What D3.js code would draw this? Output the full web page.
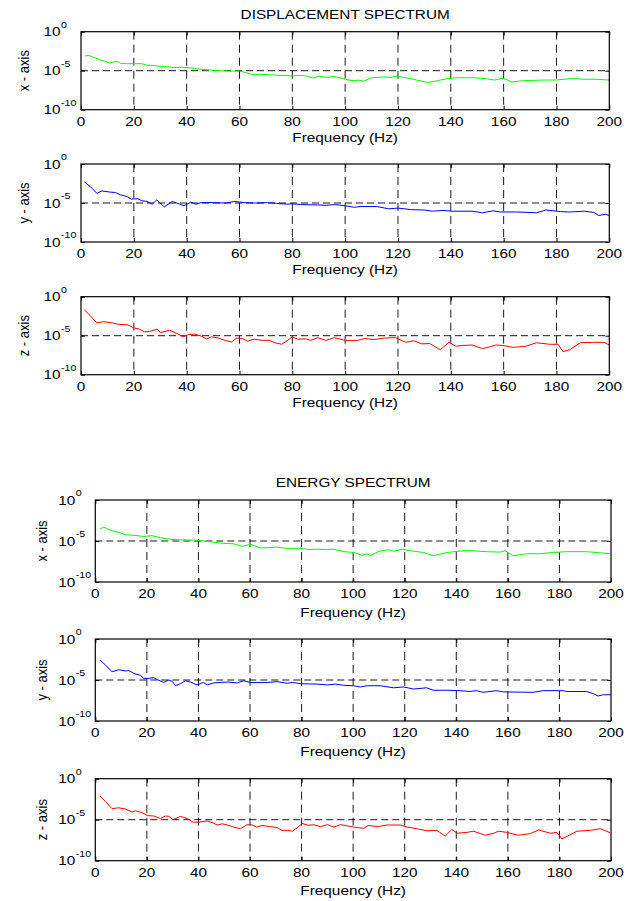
<!DOCTYPE html>
<html>
<head>
<meta charset="utf-8">
<script src="https://cdn.jsdelivr.net/npm/d3@7"></script>
<style>
  body { margin: 0; background: #fff; }
  svg { display: block; }
  text { font-family: "Liberation Sans", Arial, Helvetica, sans-serif; fill: #000; }
</style>
</head>
<body>
<svg id="chart" width="626" height="901"></svg>
<script>
// ---- axis settings ----
const xTicks = [0, 20, 40, 60, 80, 100, 120, 140, 160, 180, 200];
const xGrid = [20, 40, 60, 80, 100, 120, 140, 160, 180];
const yTickExps = [0, -5, -10];
const yGridExps = [-5];
const figureTitles = ["DISPLACEMENT SPECTRUM", "ENERGY SPECTRUM"];
const axisNames = ["x - axis", "y - axis", "z - axis"];
const seriesColors = ["#00ff00", "#0000ff", "#ff0000"];
const xLabel = "Frequency (Hz)";

// ---- spectra: frequency (Hz) and log10 of the amplitude ----
const dispXFreq = [1.5,3,5,7,9,11,13.6,15,17,20,23,25,28,30,33,35,38,40,43,45,48,50,53,56,60,62,65,68,70,73,75,78,80,82,85,88,90,93,95.6,98,100,103,105,107,109.5,112,114.6,117,119.6,122,125,127,131,134,136,139,143,148,153,156.5,159,161,163,166.8,170,175,179.5,183,186,190,195,200];
const dispXLog = [-3.1,-3.05,-3.3,-3.6,-3.8,-4.0,-3.8,-4.05,-4.1,-4.1,-4.1,-4.3,-4.35,-4.45,-4.5,-4.6,-4.55,-4.6,-4.7,-4.8,-4.9,-4.95,-5.0,-5.05,-5.05,-5.2,-5.5,-5.45,-5.5,-5.55,-5.6,-5.6,-5.7,-5.6,-5.65,-5.95,-5.7,-5.85,-5.75,-5.9,-6.1,-6.3,-6.2,-6.35,-5.95,-5.85,-5.8,-5.85,-5.7,-5.85,-6.05,-6.2,-6.5,-6.35,-6.2,-6.0,-5.9,-5.9,-6.0,-6.2,-6.0,-6.1,-6.45,-6.3,-6.25,-6.2,-6.2,-6.1,-6.0,-6.1,-6.1,-6.2];

const dispYFreq = [1.3,3.5,6,7.9,11,13,15,17.6,19,21.5,23,25,27,28.7,31.5,34.6,37,39,41.5,43.5,45.5,50,55,58,62,66,70.6,74,78,80,83,89.6,93,96,100,103.5,106,112,116.5,120,125,130,133,137,140.5,148,152,156,158.6,165,172.5,176,181.5,185,190.5,194,196,198.5,200];
const dispYLog = [-2.3,-2.9,-3.75,-3.45,-3.6,-3.65,-3.95,-4.2,-4.5,-4.45,-4.7,-4.8,-5.15,-4.6,-5.5,-4.8,-5.1,-5.35,-4.9,-5.15,-4.95,-4.95,-5.0,-4.8,-4.95,-5.0,-4.95,-5.05,-5.15,-5.1,-5.2,-5.25,-5.3,-5.2,-5.35,-5.55,-5.45,-5.45,-5.75,-5.65,-5.85,-5.9,-6.05,-5.95,-6.05,-6.05,-6.25,-6.0,-6.15,-6.15,-6.25,-5.9,-6.1,-6.15,-6.05,-6.2,-6.6,-6.45,-6.6];

const dispZFreq = [1.3,3.4,6,8.6,11.7,14.3,17.6,20,22,24,26,29,30,33.5,36,38.7,40.6,43,45.5,47.5,49.4,52,54.6,57,59,61,63,65.6,68.8,71.4,73.4,76,78,80,82,85,87,89.6,92.7,96,100,105,107.4,111,115,119,123,126,129,132,136,139.3,142,144.5,148,152,154.5,157,159.7,163.5,168.5,172.4,177.5,180.6,182.5,185,189,194,198,200];
const dispZLog = [-1.7,-2.4,-3.35,-3.2,-3.35,-3.55,-3.6,-4.0,-4.15,-4.5,-4.45,-4.15,-4.6,-4.3,-4.65,-5.15,-4.85,-4.8,-5.05,-5.4,-5.15,-5.3,-5.6,-5.8,-5.3,-5.35,-5.7,-5.45,-5.6,-5.6,-5.9,-6.1,-5.65,-5.15,-5.45,-5.4,-5.6,-5.25,-5.6,-5.25,-5.6,-5.6,-5.35,-5.5,-5.3,-5.25,-5.85,-5.65,-6.05,-6.0,-6.8,-5.85,-6.35,-6.25,-6.2,-6.65,-6.45,-6.2,-6.25,-6.5,-6.35,-5.9,-6.1,-6.1,-7.05,-6.8,-5.9,-5.85,-5.85,-6.2];

const energyXFreq = [1.8,3.3,5.9,9.1,11.7,15,18.8,22,25.3,29.2,33,39.5,43.4,48.6,53.7,57,60.2,64,70.5,74.4,79.6,83,86,90,92.5,96.4,100.2,103.4,105.4,106.7,110,113.8,115.7,119,123.5,127.3,131,136.3,144,151.8,157,159,162,167.2,172.4,177.5,182.7,190.5,199.5];
const energyXLog = [-3.55,-3.3,-3.7,-3.95,-4.25,-4.3,-4.45,-4.35,-4.6,-4.8,-4.85,-4.9,-5.05,-5.25,-5.35,-5.65,-5.4,-5.85,-5.75,-5.9,-5.9,-6.05,-6.0,-6.05,-6.0,-6.3,-6.4,-6.75,-6.55,-6.8,-6.25,-6.05,-6.25,-6.0,-6.25,-6.4,-6.8,-6.4,-6.15,-6.3,-6.35,-6.2,-6.8,-6.55,-6.55,-6.4,-6.3,-6.3,-6.55];

const energyYFreq = [1.8,4,6.5,9.1,11.7,13,15,17.6,18.8,20.8,22.5,24,26.6,28.5,29.8,31.1,33,35,36.9,39.5,41.8,43.4,46,51.2,55,57.6,60.2,66.6,70.5,74.4,76.4,79.6,86,90,93.2,96.4,100.2,102.8,105.4,110.5,115.7,119.5,123.5,128.5,131,136.3,141.4,145.3,147.8,150.4,155.6,158.2,169.8,173.7,181.5,182.7,190.5,193,195,197,200];
const energyYLog = [-2.55,-3.2,-4.0,-3.75,-3.9,-3.85,-4.2,-4.45,-4.8,-4.8,-4.7,-4.95,-5.3,-5.0,-5.15,-5.7,-5.45,-5.1,-5.25,-5.6,-5.3,-5.6,-5.35,-5.25,-5.35,-5.1,-5.3,-5.3,-5.2,-5.4,-5.3,-5.45,-5.5,-5.6,-5.5,-5.65,-5.7,-5.85,-5.7,-5.7,-5.95,-5.85,-6.1,-5.95,-6.25,-6.25,-6.3,-6.4,-6.3,-6.5,-6.3,-6.45,-6.5,-6.3,-6.3,-6.4,-6.4,-6.65,-6.95,-6.8,-6.8];

const energyZFreq = [1.8,4,6.5,9.1,11.7,14.3,15.6,18.2,20.2,22.7,25.3,27.2,28.5,30.2,33,35.6,38,40.2,43.4,46,47.3,49.2,51.2,53.7,56.3,58.9,60.8,62.5,64.7,67.9,70.5,72.4,74.4,76.4,78.3,80.2,82.5,84.7,87.3,90,92.5,95.1,100.2,104.1,106,109.3,113.2,118.3,120.9,124.7,128.6,132.5,135.7,138.3,140.3,144.1,146.7,151.2,154.5,156.4,159.6,164.2,168.7,171.9,176.5,179,181,182.9,186.8,192,195.9,199.8];
const energyZLog = [-2.1,-2.8,-3.65,-3.55,-3.7,-4.05,-3.9,-4.15,-4.5,-4.55,-4.85,-4.55,-4.6,-5.0,-4.6,-4.85,-5.3,-5.3,-5.15,-5.45,-5.65,-5.5,-5.65,-5.9,-6.1,-5.6,-5.65,-5.9,-5.7,-5.85,-5.95,-6.3,-6.3,-6.4,-6.0,-5.45,-5.68,-5.62,-5.85,-5.6,-5.9,-5.6,-5.9,-6.05,-5.7,-5.85,-5.65,-5.65,-5.9,-6.1,-6.35,-6.3,-7.0,-6.2,-6.65,-6.55,-6.4,-6.9,-6.65,-6.4,-6.55,-6.9,-6.7,-6.25,-6.65,-6.55,-7.35,-7.05,-6.4,-6.3,-6.1,-6.6];

// ---- figure layout ----
const SX = 1.18;           // horizontal stretch of all lettering
const FONT = 13;
const SUP_FONT = 9;

const figures = [
  {
    title: figureTitles[0], left: 81, right: 609.3, tops: [31.7, 164, 296.7], height: 78,
    titleDy: -12.4, xLabelDy: 32.3, yLabelDx: -57, yTickDx: -20.5,
    series: [[dispXFreq, dispXLog], [dispYFreq, dispYLog], [dispZFreq, dispZLog]]
  },
  {
    title: figureTitles[1], left: 95.3, right: 611, tops: [500, 639, 778.7], height: 82,
    titleDy: -13.3, xLabelDy: 34.5, yLabelDx: -54, yTickDx: -20,
    series: [[energyXFreq, energyXLog], [energyYFreq, energyYLog], [energyZFreq, energyZLog]]
  }
];

const svg = d3.select("#chart");
let clipId = 0;

function stretchedText(parent, x, y, str, size, anchor) {
  return parent.append("text")
    .attr("transform", `translate(${x},${y}) scale(${SX},1)`)
    .attr("text-anchor", anchor || "middle")
    .attr("font-size", size)
    .text(str);
}

figures.forEach(fig => {
  const xScale = d3.scaleLinear().domain([0, 200]).range([fig.left, fig.right]);
  const midX = (fig.left + fig.right) / 2;

  stretchedText(svg, midX, fig.tops[0] + fig.titleDy, fig.title, FONT);

  fig.tops.forEach((top, i) => {
    const bottom = top + fig.height;
    const yScale = d3.scaleLog().domain([1e-10, 1]).range([bottom, top]);
    const g = svg.append("g");

    // dashed grid
    g.selectAll("line.vgrid").data(xGrid).join("line")
      .attr("x1", d => xScale(d)).attr("x2", d => xScale(d))
      .attr("y1", top).attr("y2", bottom)
      .attr("stroke", "#000").attr("stroke-width", 0.9)
      .attr("stroke-dasharray", "8,5");
    g.selectAll("line.hgrid").data(yGridExps).join("line")
      .attr("x1", fig.left).attr("x2", fig.right)
      .attr("y1", d => yScale(Math.pow(10, d))).attr("y2", d => yScale(Math.pow(10, d)))
      .attr("stroke", "#000").attr("stroke-width", 0.9)
      .attr("stroke-dasharray", "7,4");

    // spectrum line
    const id = "clip" + (clipId++);
    g.append("clipPath").attr("id", id).append("rect")
      .attr("x", fig.left).attr("y", top)
      .attr("width", fig.right - fig.left).attr("height", fig.height);
    const [freqs, logs] = fig.series[i];
    const pts = freqs.map((f, k) => ({ f, v: Math.pow(10, logs[k]) }));
    g.append("path")
      .datum(pts)
      .attr("clip-path", `url(#${id})`)
      .attr("fill", "none")
      .attr("stroke", seriesColors[i])
      .attr("stroke-width", 1)
      .attr("d", d3.line().x(d => xScale(d.f)).y(d => yScale(d.v)));

    // inward tick marks on all four sides
    const tickVals = yTickExps.map(e => Math.pow(10, e));
    const axB = d3.axisBottom(xScale).tickValues(xTicks).tickSize(-4).tickFormat("");
    const axT = d3.axisTop(xScale).tickValues(xTicks).tickSize(-4).tickFormat("");
    const axL = d3.axisLeft(yScale).tickValues(tickVals).tickSize(-4).tickFormat("");
    const axR = d3.axisRight(yScale).tickValues(tickVals).tickSize(-4).tickFormat("");
    [[axB, `translate(0,${bottom})`], [axT, `translate(0,${top})`],
     [axL, `translate(${fig.left},0)`], [axR, `translate(${fig.right},0)`]].forEach(([ax, tr]) => {
      const a = g.append("g").attr("transform", tr).call(ax);
      a.select(".domain").remove();
      a.selectAll("line").attr("stroke", "#000").attr("stroke-width", 1);
    });

    // frame
    g.append("rect")
      .attr("x", fig.left).attr("y", top)
      .attr("width", fig.right - fig.left).attr("height", fig.height)
      .attr("fill", "none").attr("stroke", "#000").attr("stroke-width", 1.2);

    // x tick labels
    xTicks.forEach(t => stretchedText(g, xScale(t), bottom + 16, String(t), FONT));

    // y tick labels as powers of ten
    yTickExps.forEach(e => {
      const y = yScale(Math.pow(10, e));
      const lab = g.append("g")
        .attr("transform", `translate(${fig.left + fig.yTickDx},${y}) scale(${SX},1)`);
      lab.append("text").attr("text-anchor", "end").attr("font-size", FONT)
        .attr("y", 4.65).text("10");
      lab.append("text").attr("text-anchor", "start").attr("font-size", SUP_FONT)
        .attr("x", 0.4).attr("y", 4.65 - 8.4).text(String(e));
    });

    // axis titles
    stretchedText(g, midX, bottom + fig.xLabelDy, xLabel, FONT);
    g.append("text")
      .attr("transform", `translate(${fig.left + fig.yLabelDx},${(top + bottom) / 2}) scale(${SX},1) rotate(-90)`)
      .attr("text-anchor", "middle")
      .attr("dominant-baseline", "central")
      .attr("font-size", FONT)
      .text(axisNames[i]);
  });
});
</script>
</body>
</html>
